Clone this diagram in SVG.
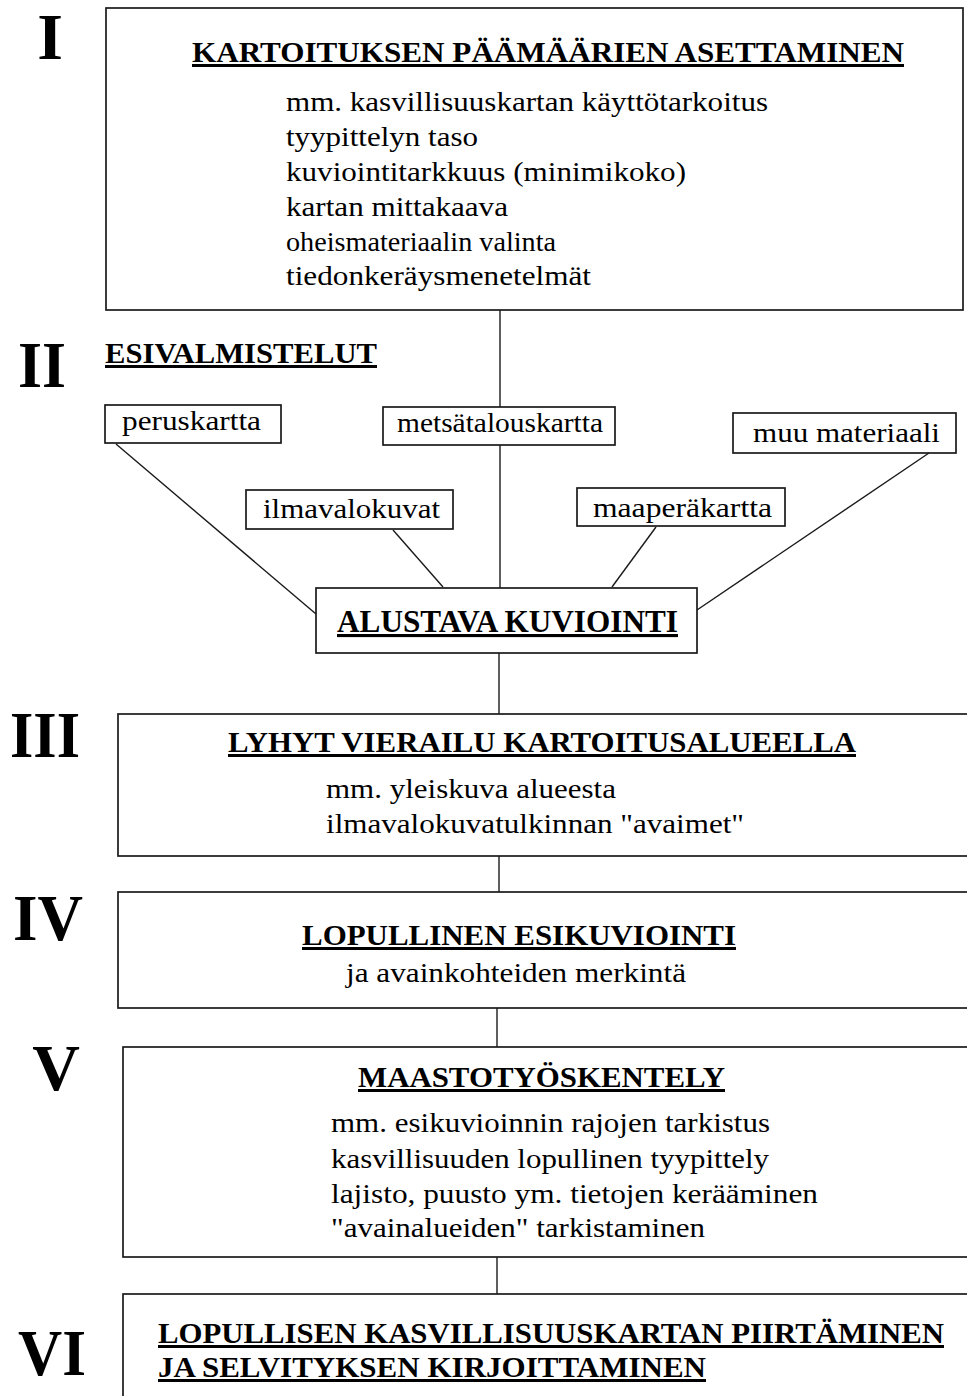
<svg xmlns="http://www.w3.org/2000/svg" width="967" height="1396" viewBox="0 0 967 1396">
<style>
  .box { fill: none; stroke: #1a1a1a; stroke-width: 1.7; }
  .con { stroke: #1a1a1a; stroke-width: 1.4; fill: none; }
  .t { font-family: "Liberation Serif", "Times New Roman", serif; fill: #000; }
  .title { font-size: 30px; font-weight: bold; text-decoration: underline; }
  .body { font-size: 28px; }
  .roman { font-size: 66px; font-weight: bold; }
</style>
<rect width="967" height="1396" fill="#fff"/>

<g id="connectors">
  <line class="con" x1="500" y1="310" x2="500" y2="407"/>
  <line class="con" x1="500" y1="445" x2="500" y2="588"/>
  <line class="con" x1="116" y1="444" x2="316" y2="614"/>
  <line class="con" x1="393" y1="530" x2="443" y2="587"/>
  <line class="con" x1="656" y1="527" x2="612" y2="587"/>
  <line class="con" x1="929" y1="453" x2="697" y2="610"/>
  <line class="con" x1="499" y1="653" x2="499" y2="714"/>
  <line class="con" x1="499" y1="856" x2="499" y2="892"/>
  <line class="con" x1="497" y1="1008" x2="497" y2="1047"/>
  <line class="con" x1="497" y1="1257" x2="497" y2="1294"/>
</g>

<g id="labels-roman">
  <text class="t roman" x="50" y="59" text-anchor="middle">I</text>
  <text class="t roman" x="42" y="387" text-anchor="middle" textLength="48" lengthAdjust="spacingAndGlyphs">II</text>
  <text class="t roman" x="45" y="757" text-anchor="middle" textLength="70" lengthAdjust="spacingAndGlyphs">III</text>
  <text class="t roman" x="48" y="940" text-anchor="middle" textLength="70" lengthAdjust="spacingAndGlyphs">IV</text>
  <text class="t roman" x="56" y="1090" text-anchor="middle">V</text>
  <text class="t roman" x="52" y="1375" text-anchor="middle" textLength="68" lengthAdjust="spacingAndGlyphs">VI</text>
</g>

<g id="node-I">
  <rect class="box" x="106" y="8" width="857" height="302"/>
  <text class="t title" x="192" y="62" textLength="712" lengthAdjust="spacingAndGlyphs">KARTOITUKSEN PÄÄMÄÄRIEN ASETTAMINEN</text>
  <text class="t body" x="286" y="111" textLength="482" lengthAdjust="spacingAndGlyphs">mm. kasvillisuuskartan käyttötarkoitus</text>
  <text class="t body" x="286" y="146" textLength="192" lengthAdjust="spacingAndGlyphs">tyypittelyn taso</text>
  <text class="t body" x="286" y="181" textLength="400" lengthAdjust="spacingAndGlyphs">kuviointitarkkuus (minimikoko)</text>
  <text class="t body" x="286" y="216" textLength="222" lengthAdjust="spacingAndGlyphs">kartan mittakaava</text>
  <text class="t body" x="286" y="251" textLength="270" lengthAdjust="spacingAndGlyphs">oheismateriaalin valinta</text>
  <text class="t body" x="286" y="285" textLength="305" lengthAdjust="spacingAndGlyphs">tiedonkeräysmenetelmät</text>
</g>

<g id="node-II-title">
  <text class="t title" x="105" y="363" textLength="272" lengthAdjust="spacingAndGlyphs">ESIVALMISTELUT</text>
</g>

<g id="node-peruskartta">
  <rect class="box" x="105" y="405" width="176" height="38"/>
  <text class="t body" x="122" y="430" textLength="139" lengthAdjust="spacingAndGlyphs">peruskartta</text>
</g>
<g id="node-metsatalouskartta">
  <rect class="box" x="383" y="407" width="232" height="38"/>
  <text class="t body" x="397" y="432" textLength="206" lengthAdjust="spacingAndGlyphs">metsätalouskartta</text>
</g>
<g id="node-muu-materiaali">
  <rect class="box" x="733" y="413" width="223" height="40"/>
  <text class="t body" x="753" y="442" textLength="187" lengthAdjust="spacingAndGlyphs">muu materiaali</text>
</g>
<g id="node-ilmavalokuvat">
  <rect class="box" x="246" y="490" width="207" height="39"/>
  <text class="t body" x="263" y="518" textLength="177" lengthAdjust="spacingAndGlyphs">ilmavalokuvat</text>
</g>
<g id="node-maaperakartta">
  <rect class="box" x="577" y="488" width="208" height="38"/>
  <text class="t body" x="593" y="517" textLength="179" lengthAdjust="spacingAndGlyphs">maaperäkartta</text>
</g>
<g id="node-alustava">
  <rect class="box" x="316" y="588" width="381" height="65"/>
  <text class="t title" x="337" y="632" style="font-size:31px" textLength="341" lengthAdjust="spacingAndGlyphs">ALUSTAVA KUVIOINTI</text>
</g>

<g id="node-III">
  <rect class="box" x="118" y="714" width="860" height="142"/>
  <text class="t title" x="228" y="752" textLength="628" lengthAdjust="spacingAndGlyphs">LYHYT VIERAILU KARTOITUSALUEELLA</text>
  <text class="t body" x="326" y="798" textLength="290" lengthAdjust="spacingAndGlyphs">mm. yleiskuva alueesta</text>
  <text class="t body" x="326" y="833" textLength="418" lengthAdjust="spacingAndGlyphs">ilmavalokuvatulkinnan "avaimet"</text>
</g>

<g id="node-IV">
  <rect class="box" x="118" y="892" width="860" height="116"/>
  <text class="t title" x="302" y="945" textLength="434" lengthAdjust="spacingAndGlyphs">LOPULLINEN ESIKUVIOINTI</text>
  <text class="t body" x="346" y="982" textLength="340" lengthAdjust="spacingAndGlyphs">ja avainkohteiden merkintä</text>
</g>

<g id="node-V">
  <rect class="box" x="123" y="1047" width="860" height="210"/>
  <text class="t title" x="358" y="1087" textLength="367" lengthAdjust="spacingAndGlyphs">MAASTOTYÖSKENTELY</text>
  <text class="t body" x="331" y="1132" textLength="439" lengthAdjust="spacingAndGlyphs">mm. esikuvioinnin rajojen tarkistus</text>
  <text class="t body" x="331" y="1168" textLength="438" lengthAdjust="spacingAndGlyphs">kasvillisuuden lopullinen tyypittely</text>
  <text class="t body" x="331" y="1203" textLength="487" lengthAdjust="spacingAndGlyphs">lajisto, puusto ym. tietojen kerääminen</text>
  <text class="t body" x="331" y="1237" textLength="374" lengthAdjust="spacingAndGlyphs">"avainalueiden" tarkistaminen</text>
</g>

<g id="node-VI">
  <rect class="box" x="123" y="1294" width="860" height="120"/>
  <text class="t title" x="158" y="1343" textLength="786" lengthAdjust="spacingAndGlyphs">LOPULLISEN KASVILLISUUSKARTAN PIIRTÄMINEN</text>
  <text class="t title" x="158" y="1377" textLength="548" lengthAdjust="spacingAndGlyphs">JA SELVITYKSEN KIRJOITTAMINEN</text>
</g>
</svg>
